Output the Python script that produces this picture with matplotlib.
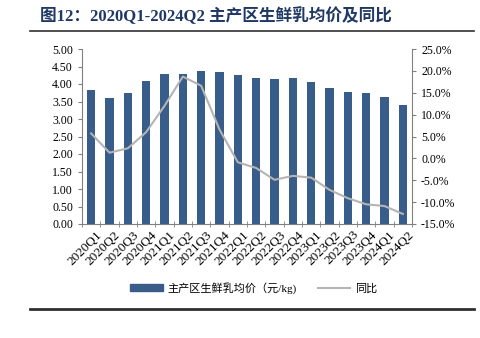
import matplotlib
matplotlib.use('Agg')
import matplotlib.pyplot as plt
import matplotlib.transforms as mtransforms
from matplotlib.lines import Line2D

plt.rcParams['font.family'] = ['Liberation Serif', 'Noto Sans CJK SC']

quarters = ['2020Q1', '2020Q2', '2020Q3', '2020Q4', '2021Q1', '2021Q2', '2021Q3', '2021Q4',
            '2022Q1', '2022Q2', '2022Q3', '2022Q4', '2023Q1', '2023Q2', '2023Q3', '2023Q4',
            '2024Q1', '2024Q2']
price = [3.83, 3.61, 3.75, 4.08, 4.30, 4.29, 4.37, 4.34,
         4.25, 4.18, 4.15, 4.16, 4.07, 3.89, 3.78, 3.73, 3.63, 3.40]
yoy = [5.7, 1.3, 2.3, 6.0, 12.0, 18.7, 16.6, 6.6,
       -0.9, -2.2, -4.9, -4.0, -4.4, -7.2, -9.1, -10.5, -10.9, -12.7]

bar_color = '#385D8A'
line_color = '#B4B4B4'

fig = plt.figure(figsize=(4.81, 3.38), dpi=100)
ax = fig.add_axes([82 / 481, 1 - 224 / 338, (412 - 82) / 481, (224 - 49) / 338])

x = list(range(len(quarters)))
ax.bar(x, price, width=0.46, color=bar_color, zorder=2)
ax.set_ylim(0, 5)
ax.set_yticks([i * 0.5 for i in range(11)])
ax.set_yticklabels(['%.2f' % (i * 0.5) for i in range(11)], fontsize=8.5)
ax.set_xlim(-0.5, len(quarters) - 0.5)
ax.set_xticks(x)
ax.set_xticks([i - 0.5 for i in range(len(quarters) + 1)], minor=True)
ax.tick_params(axis='x', which='major', length=0, pad=0)
ax.tick_params(axis='x', which='minor', length=4, direction='inout', color='#808080')
ax.tick_params(axis='y', length=3, direction='out', color='#808080')
ax.set_xticklabels(quarters, rotation=45, ha='right', va='center',
                   rotation_mode='anchor', fontsize=9.5)
# push the rotated labels a little right and down, like the original
offset = mtransforms.ScaledTranslation(9 / 100, -9 / 100, fig.dpi_scale_trans)
for lbl in ax.get_xticklabels():
    lbl.set_transform(lbl.get_transform() + offset)

ax2 = ax.twinx()
ax2.plot(x, yoy, color=line_color, linewidth=1.5, zorder=3)
ax2.set_ylim(-15, 25)
ax2.set_yticks(range(-15, 26, 5))
ax2.set_yticklabels(['%.1f%%' % v for v in range(-15, 26, 5)], fontsize=8.5)
ax2.tick_params(axis='y', length=3, direction='out', color='#808080')

for a in (ax, ax2):
    a.spines['top'].set_visible(False)
    for s in ('left', 'right', 'bottom'):
        a.spines[s].set_color('#808080')
ax.spines['right'].set_visible(False)
ax2.spines['left'].set_visible(False)
ax2.spines['bottom'].set_visible(False)

handles = [plt.Rectangle((0, 0), 1, 1, color=bar_color),
           Line2D([0], [0], color=line_color, linewidth=1.5)]
fig.legend(handles, ['主产区生鲜乳均价（元/kg)', '同比'], loc='center',
           bbox_to_anchor=(254 / 481, 1 - 288 / 338), ncol=2, frameon=False,
           handlelength=2.9, handleheight=0.55, handletextpad=0.45, columnspacing=1.9,
           prop={'family': ['Liberation Serif', 'Noto Sans CJK SC'], 'size': 8})

fig.text(40 / 481, 1 - 16 / 338, '图12：2020Q1-2024Q2 主产区生鲜乳均价及同比',
         fontsize=12, fontweight='bold', color='#1F3864', va='center',
         family=['Liberation Serif', 'Noto Sans CJK SC'])
fig.add_artist(Line2D([30 / 481, 474 / 481], [1 - 31 / 338] * 2, color='#303030', linewidth=1.2))
fig.add_artist(Line2D([30 / 481, 474 / 481], [1 - 309 / 338] * 2, color='#303030', linewidth=2))

fig.savefig('out.png', dpi=100)
